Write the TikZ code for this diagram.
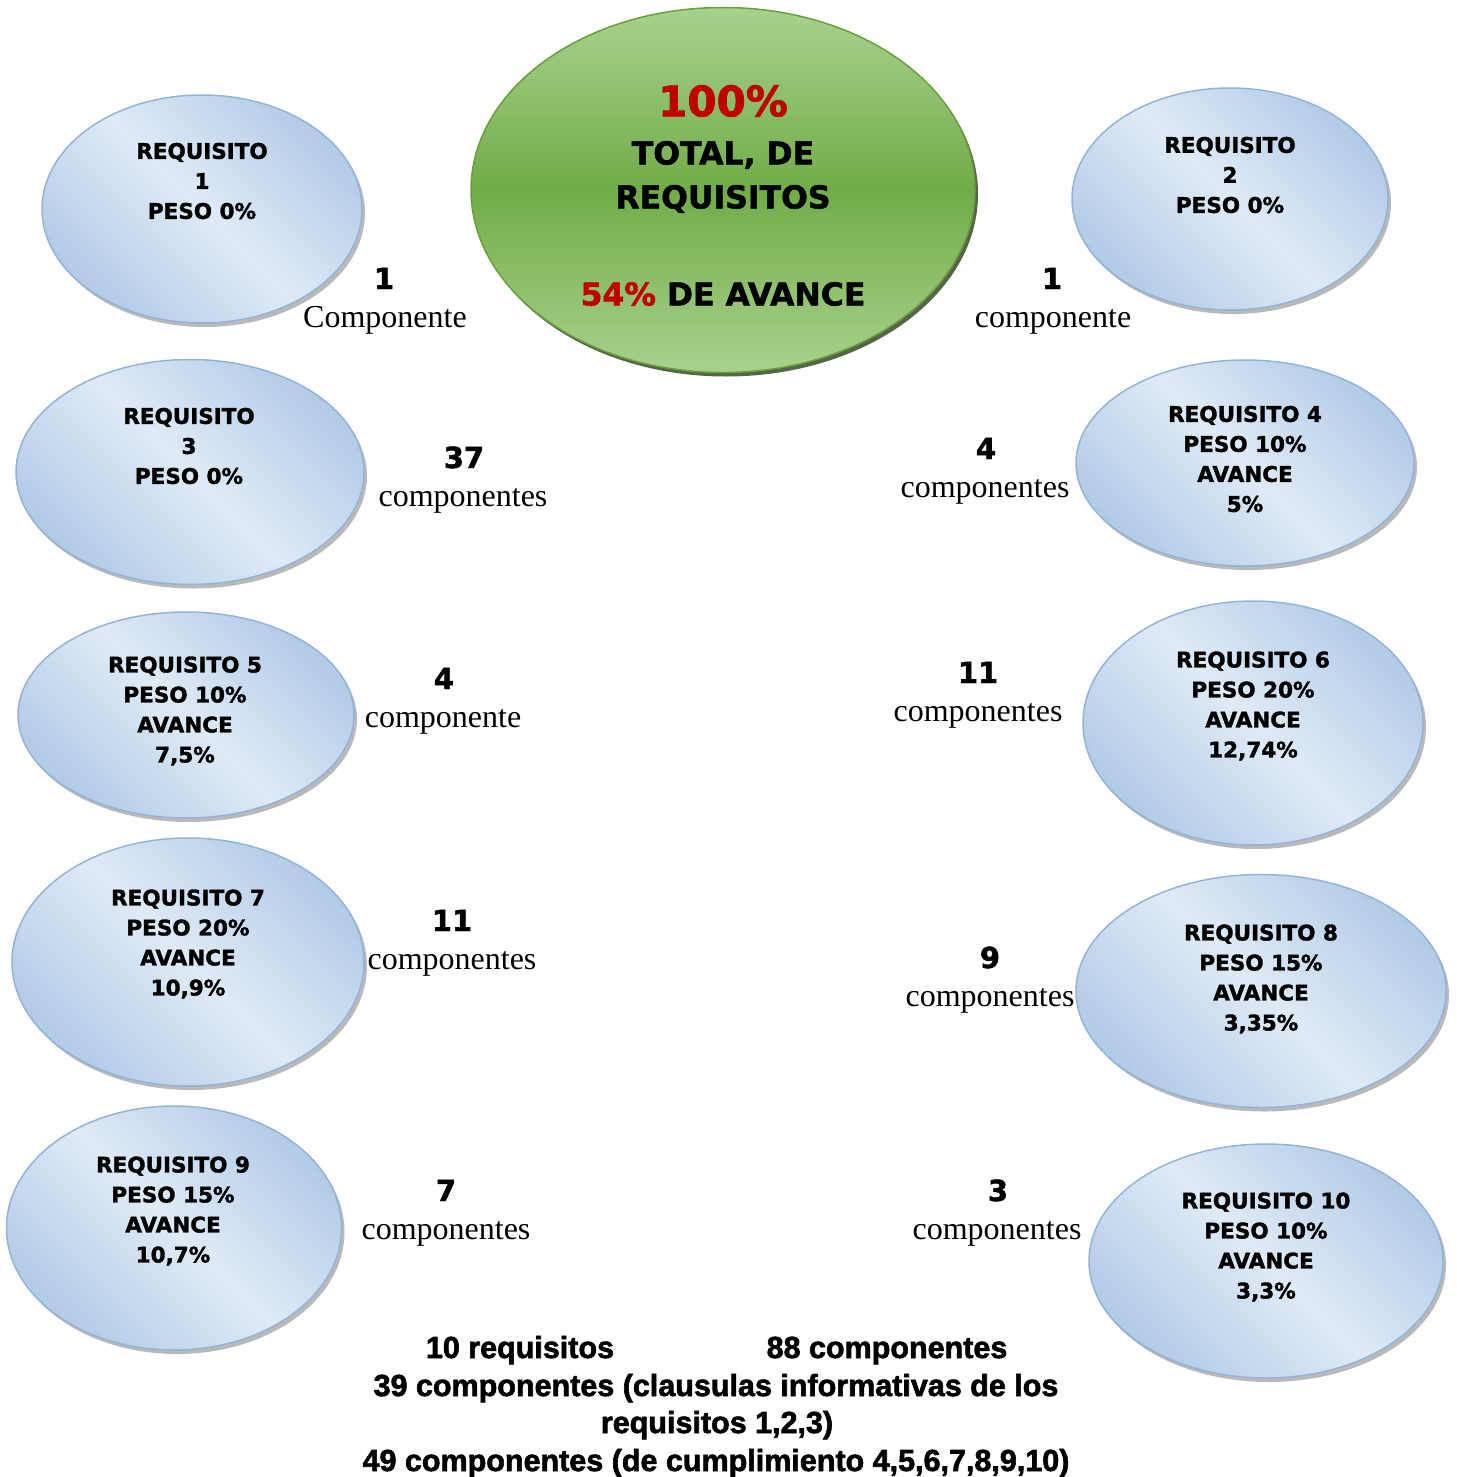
\documentclass[tikz,border=0pt]{standalone}
\usepackage{fontspec}
\setmainfont{Liberation Serif}
\newfontfamily\blackfont{DejaVu Sans}[BoldFeatures={FakeBold=1.6}]
\newfontfamily\footfont{Liberation Sans}[BoldFeatures={FakeBold=2}]
\usetikzlibrary{shapes.geometric,shadows,positioning}
\definecolor{reqline}{HTML}{95B3D7}
\definecolor{reqdark}{HTML}{B2CBE8}
\definecolor{reqlight}{HTML}{DFEAF6}
\definecolor{totline}{HTML}{6A9E3E}
\definecolor{totdark}{HTML}{70AD47}
\definecolor{totlight}{HTML}{A9D18E}
\definecolor{pctred}{HTML}{C00000}
\tikzset{
  req/.style={ellipse,draw=reqline,line width=1.5pt,inner sep=0pt,
    top color=reqdark,bottom color=reqdark,middle color=reqlight,shading angle=-45,
    drop shadow={shadow xshift=3pt,shadow yshift=-4pt,fill=black!50,opacity=.55}},
  total/.style={ellipse,draw=totline,line width=1.5pt,inner sep=0pt,
    top color=totlight,bottom color=totlight,middle color=totdark,
    drop shadow={shadow xshift=3pt,shadow yshift=-4pt,fill=black!60!totline,opacity=.8}},
  reqtxt/.style={align=center,inner sep=0pt,font=\blackfont\bfseries\fontsize{21.5}{30}\selectfont},
  tottxt/.style={align=center,inner sep=0pt,font=\blackfont\bfseries\fontsize{31.5}{44}\selectfont},
  num/.style={anchor=base,inner sep=0pt,font=\blackfont\bfseries\fontsize{29}{34}\selectfont},
  word/.style={anchor=base,inner sep=0pt,font=\fontsize{32}{38}\selectfont},
  foot/.style={anchor=base,inner sep=0pt,font=\footfont\bfseries\fontsize{30.5}{38}\selectfont}
}
\begin{document}
\begin{tikzpicture}[x=1pt,y=-1pt]
  \useasboundingbox (0,0) rectangle (1456,1477);
  % central ellipse
  \node[total,minimum width=504pt,minimum height=365pt] (tot) at (723,190) {};
  \node[tottxt,text=pctred,font=\blackfont\bfseries\fontsize{42}{48}\selectfont] (tot100) at (723,101) {100\%};
  \node[tottxt] (totlbl) at (723,177) {TOTAL, DE\\REQUISITOS};
  \node[tottxt] (totav) at (723,294) {\textcolor{pctred}{54\%} DE AVANCE};
  % requisitos
  \node[req,minimum width=320pt,minimum height=228pt] (r1) at (202,209) {};
  \node[reqtxt] (r1t) at (202,181) {REQUISITO\\1\\PESO 0\%};
  \node[req,minimum width=316pt,minimum height=222pt] (r2) at (1230,199) {};
  \node[reqtxt] (r2t) at (1230,175) {REQUISITO\\2\\PESO 0\%};
  \node[req,minimum width=348pt,minimum height=225pt] (r3) at (190,472) {};
  \node[reqtxt] (r3t) at (189,446) {REQUISITO\\3\\PESO 0\%};
  \node[req,minimum width=338pt,minimum height=206pt] (r4) at (1245,463) {};
  \node[reqtxt] (r4t) at (1245,459) {REQUISITO 4\\PESO 10\%\\AVANCE\\5\%};
  \node[req,minimum width=336pt,minimum height=206pt] (r5) at (186,715) {};
  \node[reqtxt] (r5t) at (185,711) {REQUISITO 5\\PESO 10\%\\AVANCE\\7,5\%};
  \node[req,minimum width=340pt,minimum height=244pt] (r6) at (1253,723) {};
  \node[reqtxt] (r6t) at (1253,706) {REQUISITO 6\\PESO 20\%\\AVANCE\\12,74\%};
  \node[req,minimum width=352pt,minimum height=248pt] (r7) at (188,962) {};
  \node[reqtxt] (r7t) at (188,944) {REQUISITO 7\\PESO 20\%\\AVANCE\\10,9\%};
  \node[req,minimum width=370pt,minimum height=233pt] (r8) at (1261,991) {};
  \node[reqtxt] (r8t) at (1261,979) {REQUISITO 8\\PESO 15\%\\AVANCE\\3,35\%};
  \node[req,minimum width=335pt,minimum height=244pt] (r9) at (174,1228) {};
  \node[reqtxt] (r9t) at (173,1211) {REQUISITO 9\\PESO 15\%\\AVANCE\\10,7\%};
  \node[req,minimum width=354pt,minimum height=234pt] (r10) at (1266,1261) {};
  \node[reqtxt] (r10t) at (1266,1247) {REQUISITO 10\\PESO 10\%\\AVANCE\\3,3\%};
  % componentes
  \node[num] (c1n) at (384,289) {1};
  \node[word] (c1t) at (385,327) {Componente};
  \node[num] (c2n) at (1052,289) {1};
  \node[word] (c2t) at (1053,327) {componente};
  \node[num] (c3n) at (464,468) {37};
  \node[word] (c3t) at (463,506) {componentes};
  \node[num] (c4n) at (986,459) {4};
  \node[word] (c4t) at (985,497) {componentes};
  \node[num] (c5n) at (444,689) {4};
  \node[word] (c5t) at (443,727) {componente};
  \node[num] (c6n) at (978,683) {11};
  \node[word] (c6t) at (978,721) {componentes};
  \node[num] (c7n) at (452,931) {11};
  \node[word] (c7t) at (452,969) {componentes};
  \node[num] (c8n) at (990,968) {9};
  \node[word] (c8t) at (990,1006) {componentes};
  \node[num] (c9n) at (446,1201) {7};
  \node[word] (c9t) at (446,1239) {componentes};
  \node[num] (c10n) at (998,1201) {3};
  \node[word] (c10t) at (997,1239) {componentes};
  % resumen
  \node[foot] (sumreq) at (520,1358) {10 requisitos};
  \node[foot] (sumcom) at (887,1358) {88 componentes};
  \node[foot] (suminf) at (716,1396) {39 componentes (clausulas informativas de los};
  \node[foot] (suminf2) at (717,1433) {requisitos 1,2,3)};
  \node[foot] (sumcum) at (716,1471) {49 componentes (de cumplimiento 4,5,6,7,8,9,10)};
\end{tikzpicture}
\end{document}
